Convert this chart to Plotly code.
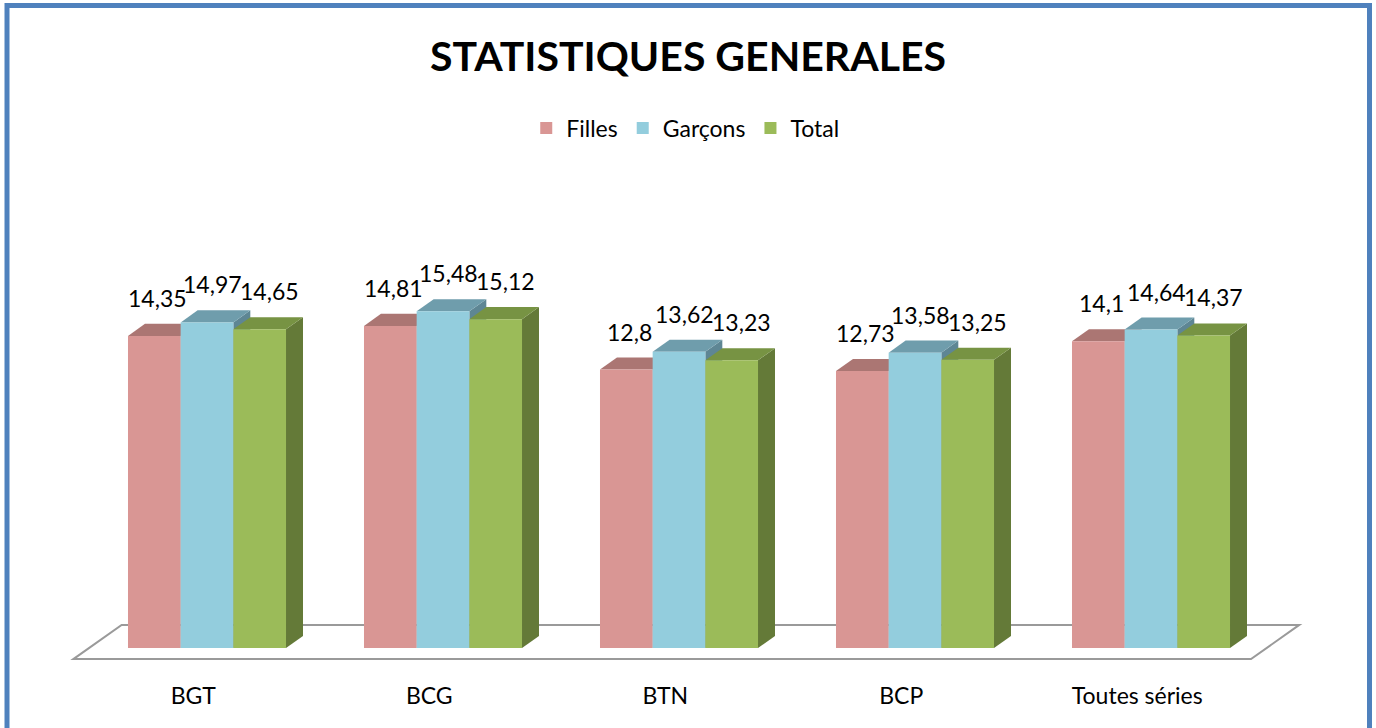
import plotly.graph_objects as go

# ---- data ----
categories = ["BGT", "BCG", "BTN", "BCP", "Toutes séries"]
series_names = ["Filles", "Garçons", "Total"]
filles = [14.35, 14.81, 12.8, 12.73, 14.1]
garcons = [14.97, 15.48, 13.62, 13.58, 14.64]
total = [14.65, 15.12, 13.23, 13.25, 14.37]
series_values = [filles, garcons, total]

# ---- style ----
front_colors = ["#D99694", "#93CDDD", "#9BBB59"]
top_colors = ["#AB7673", "#6F9DAC", "#779343"]
side_colors = ["#8E6260", "#5E8694", "#647A38"]
label_xshift = [3, 5, 10]

FONT = "Lato"
W = 0.2232          # bar width (category units)
DX = 0.072          # depth offset x (category units)
DY = 0.553          # depth offset y (value units)
FLOOR_FRONT = -0.92
FLOOR_BACK = 1.92

PX_PER_UNIT_X = 236.0
PX_PER_UNIT_Y = 21.75
FIG_W, FIG_H = 1376, 728
MB = 48
PLOT_H = FIG_H - MB
X0_PX = 207.0
Y0_PX = 648.0

fig = go.Figure()

shapes = []
# floor
n = len(categories)
fx = [-0.5, n - 0.51]
floor_pts = [
    (fx[0] + FLOOR_FRONT * DX, FLOOR_FRONT * DY),
    (fx[1] + FLOOR_FRONT * DX, FLOOR_FRONT * DY),
    (fx[1] + FLOOR_BACK * DX, FLOOR_BACK * DY),
    (fx[0] + FLOOR_BACK * DX, FLOOR_BACK * DY),
]
path = "M " + " L ".join(f"{x},{y}" for x, y in floor_pts) + " Z"
shapes.append(dict(type="path", path=path, xref="x", yref="y", layer="below",
                   line=dict(color="#9A9A9A", width=2), fillcolor="white"))

annotations = []
for g in range(n):
    for s in range(3):
        v = series_values[s][g]
        c = g + (s - 1) * W
        xl, xr = c - W / 2, c + W / 2
        side = f"M {xr},0 L {xr + DX},{DY} L {xr + DX},{v + DY} L {xr},{v} Z"
        top = f"M {xl},{v} L {xr},{v} L {xr + DX},{v + DY} L {xl + DX},{v + DY} Z"
        shapes.append(dict(type="path", path=side, xref="x", yref="y", layer="below",
                           line=dict(width=0), fillcolor=side_colors[s]))
        shapes.append(dict(type="path", path=top, xref="x", yref="y", layer="below",
                           line=dict(width=0), fillcolor=top_colors[s]))
        annotations.append(dict(x=c, y=v, xref="x", yref="y", text=f"{v:g}".replace(".", ","),
                                showarrow=False, yshift=38, xshift=label_xshift[s],
                                xanchor="center", yanchor="middle",
                                font=dict(family=FONT, size=23, color="#000000")))

for s in range(3):
    fig.add_trace(go.Bar(
        name=series_names[s],
        x=[g + (s - 1) * W for g in range(n)],
        y=series_values[s],
        width=W,
        marker=dict(color=front_colors[s], line=dict(width=0)),
        hoverinfo="y+name",
    ))

x_min = -X0_PX / PX_PER_UNIT_X
x_max = (FIG_W - X0_PX) / PX_PER_UNIT_X
y_min = -(PLOT_H - Y0_PX) / PX_PER_UNIT_Y
y_max = Y0_PX / PX_PER_UNIT_Y

# outer border
shapes.append(dict(type="rect", xref="paper", yref="paper",
                   x0=7 / FIG_W, x1=1369.5 / FIG_W,
                   y0=-0.2, y1=(PLOT_H - 5.5) / PLOT_H,
                   line=dict(color="#4F81BD", width=5), fillcolor="rgba(0,0,0,0)", layer="above"))

fig.update_layout(
    width=FIG_W, height=FIG_H, autosize=False,
    margin=dict(l=0, r=0, t=0, b=MB, pad=0),
    paper_bgcolor="white", plot_bgcolor="white",
    barmode="overlay",
    title=dict(text="STATISTIQUES GENERALES", x=0.5, xanchor="center",
               y=1 - 57 / FIG_H, yref="container", yanchor="middle",
               font=dict(family=FONT, size=41, color="#000000", weight="bold")),
    legend=dict(orientation="h", x=0.498, xanchor="center",
                y=(PLOT_H - 128) / PLOT_H, yanchor="middle",
                font=dict(family=FONT, size=23, color="#000000"),
                bgcolor="rgba(0,0,0,0)", traceorder="normal"),
    xaxis=dict(range=[x_min, x_max], showgrid=False, zeroline=False, showline=False,
               tickmode="array",
               tickvals=[g + FLOOR_FRONT * DX + 0.008 for g in range(n)],
               ticktext=categories, ticks="",
               tickfont=dict(family=FONT, size=23, color="#000000"),
               ticklabelstandoff=0, fixedrange=True),
    yaxis=dict(range=[y_min, y_max], visible=False, fixedrange=True),
    shapes=shapes,
    annotations=annotations,
    showlegend=True,
)

fig.write_html("out.html", config={"displayModeBar": False},
               post_script="document.body.style.margin='0';document.body.style.overflow='hidden';")
